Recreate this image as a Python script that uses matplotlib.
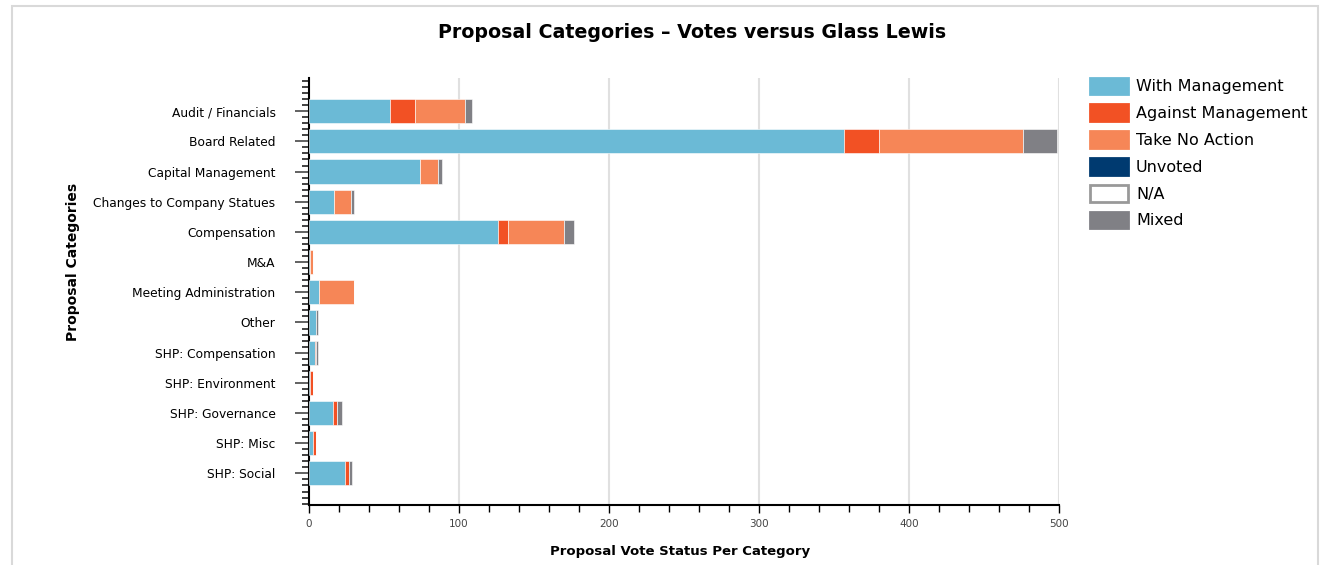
import matplotlib.pyplot as plt
import numpy as np
from matplotlib.patches import Patch, Rectangle
from matplotlib.ticker import MultipleLocator

categories = ["Audit / Financials", "Board Related", "Capital Management",
              "Changes to Company Statues", "Compensation", "M&A",
              "Meeting Administration", "Other", "SHP: Compensation",
              "SHP: Environment", "SHP: Governance", "SHP: Misc", "SHP: Social"]

with_mgmt = [54, 357, 74, 17, 126, 1, 7, 5, 4, 1, 16, 3, 24]
against_mgmt = [17, 23, 0, 0, 7, 0, 0, 0, 1, 2, 3, 2, 3]
take_no_action = [33, 96, 12, 11, 37, 2, 23, 0, 0, 0, 0, 0, 0]
unvoted = [0] * 13
na = [0] * 13
mixed = [5, 23, 3, 2, 7, 0, 0, 1, 1, 0, 3, 0, 2]

series = [
    ("With Management", with_mgmt, "#6bbad6"),
    ("Against Management", against_mgmt, "#f25124"),
    ("Take No Action", take_no_action, "#f68657"),
    ("Unvoted", unvoted, "#003a70"),
    ("N/A", na, "#ffffff"),
    ("Mixed", mixed, "#808085"),
]

plt.rcParams['font.family'] = ['DejaVu Sans']

fig = plt.figure(figsize=(13.22, 5.65), dpi=100)
fig.patches.append(Rectangle((0.009, -0.01), 0.988, 1.0, transform=fig.transFigure,
                             fill=False, edgecolor="#d9d9d9", linewidth=1.5))
ax = fig.add_axes([0.2337, 0.106, 0.5673, 0.756])

y = np.arange(len(categories))
left = np.zeros(len(categories))
for name, vals, col in series:
    vals = np.array(vals, dtype=float)
    ax.barh(y, vals, left=left, height=0.8, color=col, edgecolor="white",
            linewidth=0.4, zorder=3)
    left += vals

ax.set_xlim(0, 500)
ax.set_ylim(len(categories) - 1 + 1.05, -1.1)
ax.set_yticks(y)
ax.set_yticklabels(categories, fontsize=8.8)
ax.yaxis.set_minor_locator(MultipleLocator(0.2))
ax.xaxis.set_major_locator(MultipleLocator(100))
ax.xaxis.set_minor_locator(MultipleLocator(20))
ax.tick_params(axis="y", which="major", length=10, width=1.3, color="#555555", pad=14)
ax.tick_params(axis="y", which="minor", length=5, width=1.3, color="#333333")
ax.tick_params(axis="x", which="major", length=6, width=1.0, labelsize=7.5,
               labelcolor="#444444", pad=4)
ax.tick_params(axis="x", which="minor", length=5, width=1.0)
ax.grid(axis="x", color="#e0e0e0", linewidth=1.5, zorder=0)

for s in ["top", "right"]:
    ax.spines[s].set_visible(False)
ax.spines["left"].set_linewidth(1.5)
ax.spines["bottom"].set_linewidth(1.5)

fig.text(680 / 1322, 1 - 552 / 565, "Proposal Vote Status Per Category",
         ha="center", va="center", fontsize=9.5, fontweight="bold")
fig.text(73 / 1322, 1 - 262 / 565, "Proposal Categories", rotation=90,
         ha="center", va="center", fontsize=10, fontweight="bold")
fig.text(692 / 1322, 1 - 32 / 565, "Proposal Categories \u2013 Votes versus Glass Lewis",
         ha="center", va="center", fontsize=13.7, fontweight="bold")

handles = []
for name, vals, col in series:
    ec = "#999999" if name == "N/A" else col
    handles.append(Patch(facecolor=col, edgecolor=ec, linewidth=2, label=name))
fig.legend(handles=handles, loc="upper left", bbox_to_anchor=(0.8195, 0.874),
           frameon=False, fontsize=11.5, handlelength=2.4, handleheight=1.25,
           labelspacing=0.62, handletextpad=0.5, borderaxespad=0)

fig.savefig("out.png", dpi=100)
